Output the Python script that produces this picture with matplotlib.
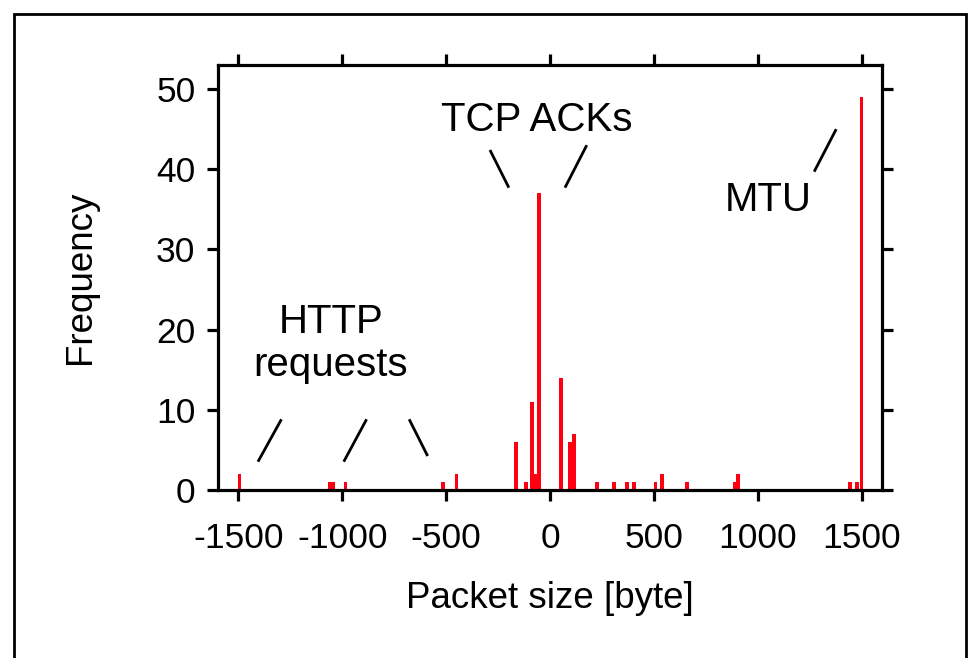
import matplotlib
matplotlib.use("Agg")
import matplotlib.pyplot as plt
from matplotlib.patches import Rectangle

plt.rcParams['font.family'] = ['Liberation Sans', 'DejaVu Sans']

# Data: packet size (byte, negative = upstream) and frequency
packet_sizes = [-1495, -1062, -1046, -985, -515, -450, -165, -115, -85, -70, -53,
                53, 98, 116, 228, 308, 372, 404, 508, 540, 661, 888, 904, 1446, 1478, 1500]
frequencies = [2, 1, 1, 1, 1, 2, 6, 1, 11, 2, 37,
               14, 6, 7, 1, 1, 1, 1, 1, 2, 1, 1, 2, 1, 1, 49]

x_ticks = [-1500, -1000, -500, 0, 500, 1000, 1500]
y_ticks = [0, 10, 20, 30, 40, 50]

fig = plt.figure(figsize=(9.7, 6.58), dpi=100)
ax = fig.add_axes([0.2244, 0.2553, 0.9096 - 0.2244, 0.9012 - 0.2553])

ax.bar(packet_sizes, frequencies, width=18, color='#ff0010', linewidth=0)

ax.set_xlim(-1600, 1600)
ax.set_ylim(0, 53)
ax.set_xticks(x_ticks)
ax.set_yticks(y_ticks)
ax.set_xticklabels([str(t) for t in x_ticks])

for s in ax.spines.values():
    s.set_linewidth(2.3)
ax.tick_params(axis='both', which='both', direction='out', length=8, width=2.3,
               labelsize=25.5, top=True, right=True)
ax.tick_params(axis='x', pad=15)
ax.tick_params(axis='y', pad=8)

ax.set_xlabel('Packet size [byte]', fontsize=26.5, labelpad=19)
ax.set_ylabel('Frequency', fontsize=26.5, labelpad=42)

# Annotations
ax.text(-63, 46.1, 'TCP ACKs', fontsize=29, ha='center', va='center')
ax.text(1050, 36.2, 'MTU', fontsize=29, ha='center', va='center')
ax.text(-1055, 18.3, 'HTTP\nrequests', fontsize=29, ha='center', va='center', linespacing=1.15)

lines = [
    ((-1406, -1293), (3.53, 8.82)),
    ((-993, -883), (3.53, 8.82)),
    ((-678, -589), (8.82, 4.24)),
    ((-289, -198), (42.4, 37.7)),
    ((177, 72), (43.0, 37.7)),
    ((1378, 1272), (45.0, 39.7)),
]
for xs, ys in lines:
    ax.plot(xs, ys, color='black', linewidth=2.0, solid_capstyle='butt')

# Outer border of the figure
fig.patches.append(Rectangle((14 / 970, -0.1), (966 - 14) / 970, 1.1 - 14 / 658,
                             transform=fig.transFigure, fill=False,
                             edgecolor='black', linewidth=2.0))

fig.savefig('out.png', dpi=100)
